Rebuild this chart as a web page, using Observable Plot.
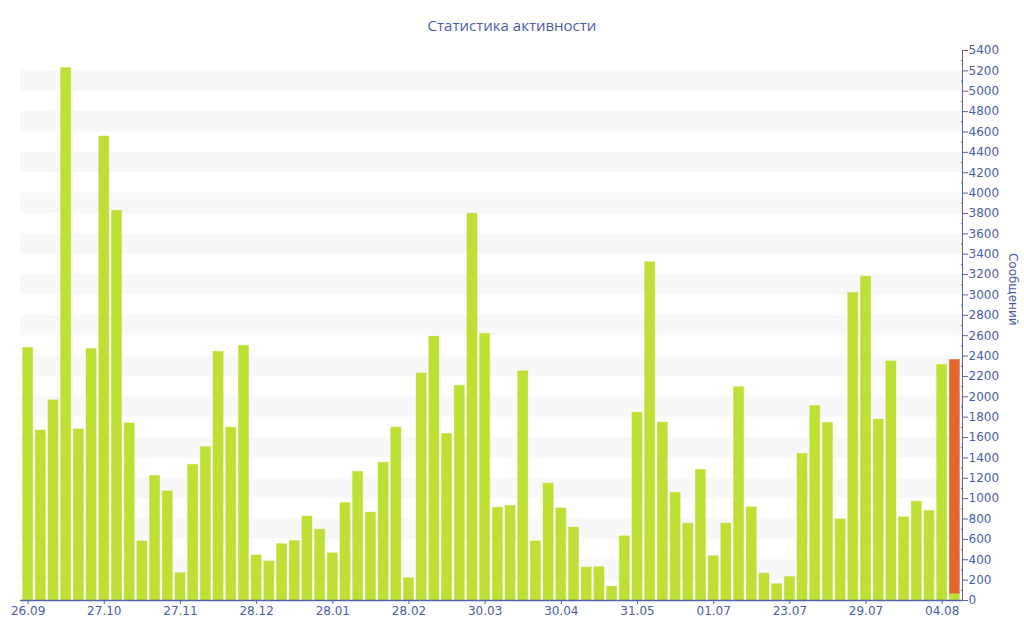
<!DOCTYPE html>
<html><head><meta charset="utf-8">
<script src="https://cdn.jsdelivr.net/npm/d3@7"></script>
<script src="https://cdn.jsdelivr.net/npm/@observablehq/plot@0.6"></script>
<style>
body{margin:0;background:#fff;width:1024px;height:640px;overflow:hidden;}
#title{height:40px;box-sizing:border-box;padding-top:15px;line-height:20px;text-align:center;font-family:"Open Sans",sans-serif;font-size:15px;color:#4a5ea4;}
</style></head><body>
<div id="title">Статистика активности</div>
<div id="chart"></div>
<script>
// tick labels shown every 6th week
const tickLabels = ["26.09","27.10","27.11","28.12","28.01","28.02","30.03","30.04","31.05","01.07","23.07","29.07","04.08"];
// weekly message counts (main series)
const mainValues = [
  2480,1669,1965,5227,1680,2469,4556,3826,1739,581,1224,1071,268,
  1332,1506,2442,1697,2501,442,383,553,584,824,696,463,
  956,1263,863,1353,1697,219,2229,2591,1635,2108,3798,2619,911,
  929,2250,581,1148,904,716,323,327,136,630,1843,3321,
  1746,1057,755,1283,435,755,2094,915,264,160,230,1440,1909,
  1743,796,3019,3179,1777,2348,817,970,880,2313,66
];
// current (incomplete) week, stacked on top
const currentIndex = [73];
const currentValues = [2296];

const mainColor = "#bde034", currentColor = "#e2652f";
const textColor = "#4a5ea4", axisColor = "#5365a9";

const rows = [
  ...mainValues.map((v, i) => ({i, v, s: "main"})),
  ...currentIndex.map((idx, k) => ({i: idx, v: currentValues[k], s: "current"}))
];
const categories = mainValues.map((_, i) => i);
const tickIdx = tickLabels.map((_, k) => k * 6);
const stripes = d3.range(200, 5400, 400).map(v => ({y1: v, y2: v + 200}));

const chart = Plot.plot({
  width: 1024, height: 600,
  marginTop: 10, marginBottom: 40, marginLeft: 20, marginRight: 62,
  style: {fontFamily: "DejaVu Sans, sans-serif", fontSize: "12px", color: textColor, background: "#fff"},
  x: {type: "band", domain: categories, padding: 0.2, label: null},
  y: {domain: [0, 5400], label: null},
  color: {type: "ordinal", domain: ["main", "current"], range: [mainColor, currentColor]},
  marks: [
    Plot.rect(stripes, {y1: "y1", y2: "y2", fill: "#f8f8f8"}),
    Plot.barY(rows, {x: "i", y: "v", fill: "s", stroke: "s", strokeOpacity: 0.5, strokeWidth: 0.8, order: ["main", "current"]}),
    Plot.ruleY([0], {stroke: axisColor, strokeWidth: 1.5}),
    Plot.frame({anchor: "right", stroke: axisColor}),
    Plot.axisX({ticks: tickIdx, tickFormat: i => tickLabels[i / 6], tickSize: 4, tickPadding: 2, stroke: axisColor, fill: textColor, label: null}),
    Plot.axisY({anchor: "right", ticks: d3.range(0, 5401, 200), tickFormat: d => String(d), tickSize: 5, tickPadding: 1, stroke: axisColor, fill: textColor, label: null}),
    Plot.axisY({anchor: "right", ticks: d3.range(100, 5400, 200), tickSize: -2, tickFormat: () => "", stroke: axisColor, label: null}),
    Plot.text(["Сообщений"], {frameAnchor: "right", rotate: 90, dx: 50, fill: textColor, fontSize: 12})
  ]
});
document.getElementById("chart").appendChild(chart);
</script>
</body></html>
